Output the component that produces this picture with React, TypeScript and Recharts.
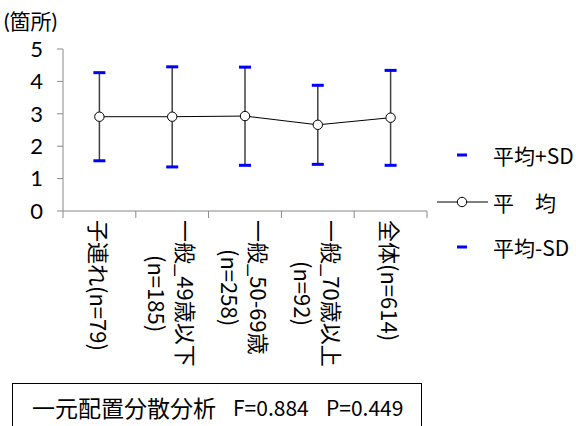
import React from 'react';
import { LineChart, Line, XAxis, YAxis, ErrorBar } from 'recharts';

// category labels (line breaks as in the original)
const categories = [
  ['子連れ(n=79)'],
  ['一般_49歳以下', '(n=185)'],
  ['一般_50-69歳', '(n=258)'],
  ['一般_70歳以上', '(n=92)'],
  ['全体(n=614)'],
];
const meanValues = [2.91, 2.91, 2.93, 2.66, 2.88];
const plusSd = [4.27, 4.45, 4.44, 3.88, 4.34];
const minusSd = [1.55, 1.36, 1.41, 1.44, 1.41];
const yTicks = [0, 1, 2, 3, 4, 5];
const unitLabel = '(箇所)';
const anovaTitle = '一元配置分散分析';
const fValue = 0.884;
const pValue = 0.449;

const FONT = "'Noto Sans CJK JP', 'Noto Sans', sans-serif";
const LATIN_FIRST = "Lato, 'Noto Sans CJK JP', sans-serif";
const AXIS = '#898989';
const PLOT_W = 364;
const BAND = PLOT_W / categories.length;

const data = categories.map((c, i) => ({
  name: c.join('\n'),
  lines: c,
  mean: meanValues[i],
  hi: plusSd[i],
  lo: minusSd[i],
  err: [meanValues[i] - minusSd[i], plusSd[i] - meanValues[i]],
}));

const CapDot = (props: any) => {
  const { cx, cy } = props;
  if (cx == null || cy == null) return null;
  return <rect x={cx - 6} y={cy - 1.5} width={12} height={3} fill="#0000ff" />;
};

const CategoryTick = (props: any) => {
  const { x, y, index, payload } = props;
  const lines: string[] = data[index]?.lines ?? [String(payload.value)];
  const last = index === data.length - 1;
  return (
    <g>
      <line x1={x - BAND / 2} x2={x - BAND / 2} y1={y} y2={y + 7} stroke={AXIS} />
      {last && <line x1={x + BAND / 2} x2={x + BAND / 2} y1={y} y2={y + 7} stroke={AXIS} />}
      <foreignObject x={x - 45} y={y + 9} width={90} height={170}>
        <div style={{ display: 'flex', justifyContent: 'center', width: 90 }}>
          <div
            style={{
              display: 'inline-block',
              writingMode: 'vertical-rl',
              textOrientation: 'sideways',
              textAlign: 'center',
              fontFamily: FONT,
              fontSize: 22,
              lineHeight: '29px',
              color: '#000',
              whiteSpace: 'pre',
            }}
          >
            {lines.join('\n')}
          </div>
        </div>
      </foreignObject>
    </g>
  );
};

const legendRow: React.CSSProperties = {
  position: 'absolute',
  left: 0,
  height: 30,
  display: 'flex',
  alignItems: 'center',
};
const legendText: React.CSSProperties = { fontFamily: FONT, fontSize: 21, color: '#000', whiteSpace: 'pre' };

const SdIcon = () => (
  <svg width={56} height={10}>
    <rect x={20} y={3.5} width={10} height={3} fill="#0000ff" />
  </svg>
);

export default function App() {
  return (
    <div style={{ position: 'absolute', left: 0, top: 0, width: 576, height: 426, background: '#fff', overflow: 'hidden' }}>
      <div style={{ position: 'absolute', left: 4, top: 11, fontFamily: LATIN_FIRST, fontSize: 21, lineHeight: '19px' }}>
        {unitLabel}
      </div>
      <LineChart
        width={576}
        height={380}
        data={data}
        margin={{ top: 49, right: 576 - 63 - PLOT_W, left: 0, bottom: 0 }}
      >
        <XAxis
          dataKey="name"
          axisLine={{ stroke: AXIS }}
          tickLine={false}
          tickSize={0}
          tickMargin={0}
          height={169}
          interval={0}
          padding={{ left: BAND / 2, right: BAND / 2 }}
          tick={<CategoryTick />}
        />
        <YAxis
          domain={[0, 5]}
          ticks={yTicks}
          width={63}
          axisLine={{ stroke: AXIS }}
          tickLine={{ stroke: AXIS }}
          tickSize={6}
          tickMargin={14}
          tick={{ fill: '#000', fontSize: 22, fontFamily: LATIN_FIRST }}
          interval={0}
        />
        <Line
          dataKey="mean"
          name="平　均"
          stroke="#000"
          strokeWidth={1}
          dot={{ r: 4.7, fill: '#fff', stroke: '#000', strokeWidth: 1 }}
          isAnimationActive={false}
        >
          <ErrorBar dataKey="err" direction="y" width={0} stroke="#404040" strokeWidth={1.5} isAnimationActive={false} />
        </Line>
        <Line dataKey="hi" name="平均+SD" stroke="none" dot={<CapDot />} activeDot={false} isAnimationActive={false} />
        <Line dataKey="lo" name="平均-SD" stroke="none" dot={<CapDot />} activeDot={false} isAnimationActive={false} />
      </LineChart>

      {/* legend */}
      <div style={{ position: 'absolute', left: 437, top: 0, width: 139 }}>
        <div style={{ ...legendRow, top: 140 }}>
          <SdIcon />
          <span style={legendText}>平均+SD</span>
        </div>
        <div style={{ ...legendRow, top: 187 }}>
          <svg width={56} height={14}>
            <line x1={0} x2={51} y1={7} y2={7} stroke="#000" />
            <circle cx={25} cy={7} r={4.7} fill="#fff" stroke="#000" />
          </svg>
          <span style={legendText}>平　均</span>
        </div>
        <div style={{ ...legendRow, top: 232 }}>
          <SdIcon />
          <span style={legendText}>平均-SD</span>
        </div>
      </div>

      {/* ANOVA box */}
      <div
        style={{
          position: 'absolute',
          left: 12,
          top: 383,
          width: 410,
          height: 70,
          border: '1.5px solid #000',
          boxSizing: 'border-box',
          fontFamily: FONT,
          whiteSpace: 'pre',
        }}
      >
        <span style={{ position: 'absolute', left: 19, top: 7, fontSize: 23, lineHeight: '32px' }}>{anovaTitle}</span>
        <span style={{ position: 'absolute', left: 220, top: 8, fontSize: 21, lineHeight: '30px' }}>F={fValue}</span>
        <span style={{ position: 'absolute', left: 313, top: 8, fontSize: 21, lineHeight: '30px' }}>P={pValue}</span>
      </div>
    </div>
  );
}
